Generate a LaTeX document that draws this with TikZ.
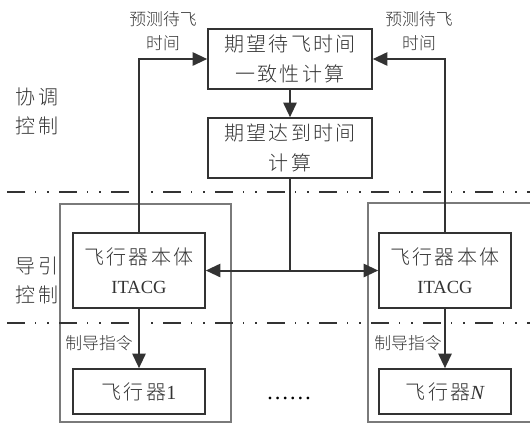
\documentclass[tikz,border=0pt]{standalone}
\usepackage{fontspec}
\setmainfont{Liberation Serif}
\IfFontExistsTF{Noto Sans CJK SC Light}{%
  \newfontfamily\cjk{Noto Sans CJK SC Light}%
  \newfontfamily\cjksp{Noto Sans CJK SC Light}[LetterSpace=12]%
}{%
  \newfontfamily\cjk{Noto Sans CJK SC}%
  \newfontfamily\cjksp{Noto Sans CJK SC}[LetterSpace=12]%
}
\usetikzlibrary{arrows.meta}
\definecolor{ink}{HTML}{333333}
\definecolor{frame}{HTML}{7A7A7A}
\tikzset{
  box/.style={draw=ink, line width=1.2pt, text=ink, align=center, inner sep=0pt,
    font=\fontsize{15}{23}\selectfont\cjksp},
  conn/.style={draw=ink, line width=1.5pt},
  tip/.style={-{Triangle[length=11pt,width=10pt]}},
  lbl/.style={text=ink, align=center, inner sep=0pt, font=\fontsize{12.6}{18}\selectfont\cjk},
  side/.style={text=ink, align=center, inner sep=0pt, font=\fontsize{15}{21.75}\selectfont\cjksp},
  dashline/.style={draw=ink, line width=1.5pt,
    dash pattern=on 13.5pt off 7.5pt on 1.1pt off 8.25pt on 1.1pt off 7.55pt},
  outer/.style={draw=frame, line width=0.8pt}
}
\begin{document}
\begin{tikzpicture}[x=0.75pt,y=-0.75pt]
\useasboundingbox (0,0) rectangle (530,426);
% outer frames
\draw[outer] (60,204) rectangle (231,422);
\draw[outer] (531,203) -- (368,203) -- (368,422) -- (531,422);
% dash-dot separators
\draw[dashline] (7,192) -- (530,192);
\draw[dashline] (7,323) -- (530,323);
% boxes
\node[box, minimum width=123pt, minimum height=45pt] (coord) at (290,59) {期望待飞时间\\一致性计算};
\node[box, minimum width=123pt, minimum height=45pt] (arrive) at (290,148) {期望达到时间\\计算};
\node[box, minimum width=99pt, minimum height=56.25pt] (bodyL) at (139,270.5)
  {飞行器本体\\[-1.5pt]{\fontsize{13.9}{16}\selectfont\rmfamily ITACG}};
\node[box, minimum width=99pt, minimum height=56.25pt] (bodyR) at (445,270.5)
  {飞行器本体\\[-1.5pt]{\fontsize{13.9}{16}\selectfont\rmfamily ITACG}};
\node[box, minimum width=99pt, minimum height=33.75pt] (acL) at (139,391.5)
  {飞行器{\rmfamily 1}};
\node[box, minimum width=99pt, minimum height=33.75pt] (acR) at (445,391.5)
  {飞行器{\rmfamily\itshape N}};
% connectors
\draw[conn, tip] (bodyL.north) |- (coord.west);
\draw[conn, tip] (bodyR.north) |- (coord.east);
\draw[conn, tip] (coord.south) -- (arrive.north);
\coordinate (junc) at (arrive.south |- bodyL.east);
\draw[conn] (arrive.south) -- (junc);
\draw[conn, tip] (junc) -- (bodyL.east);
\draw[conn, tip] (junc) -- (bodyR.west);
\draw[conn, tip] (bodyL.south) -- (acL.north);
\draw[conn, tip] (bodyR.south) -- (acR.north);
% labels
\node[lbl] (predL) at (163,31) {预测待飞\\时间};
\node[lbl] (predR) at (419,31) {预测待飞\\时间};
\node[lbl] (cmdL) at (99,343) {制导指令};
\node[lbl] (cmdR) at (408,343) {制导指令};
\node[side] (xt) at (37,111) {协调\\控制};
\node[side] (dy) at (37,280) {导引\\控制};
\node[text=black, inner sep=0pt, font=\fontsize{17}{20}\selectfont\rmfamily] (dots) at (289,398) {……};
\end{tikzpicture}
\end{document}
